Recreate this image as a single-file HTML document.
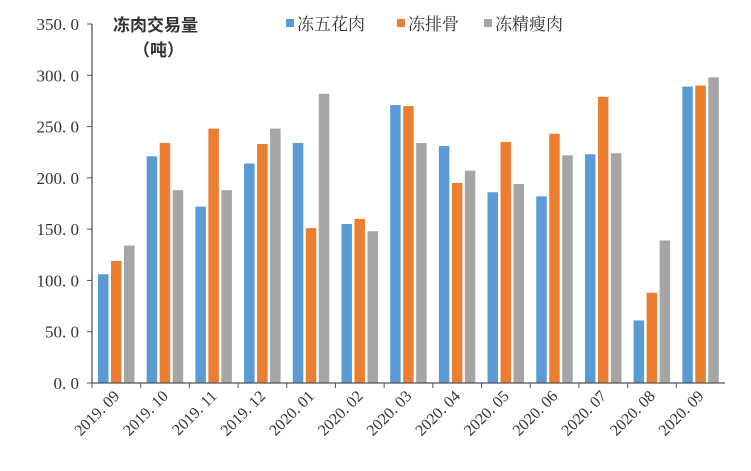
<!DOCTYPE html>
<html><head><meta charset="utf-8"><style>
body{margin:0;background:#fff;width:751px;height:466px;overflow:hidden}
svg text{font-family:"Liberation Serif","Noto Serif CJK SC",serif;fill:#333}
</style></head><body>
<svg id="chart" width="751" height="466" xmlns="http://www.w3.org/2000/svg">
<text x="113" y="31" font-size="17" font-weight="bold" style="font-family:'Noto Sans CJK SC',sans-serif" fill="#000">冻肉交易量</text>
<text x="133" y="56" font-size="17" font-weight="bold" style="font-family:'Noto Sans CJK SC',sans-serif" fill="#000">（吨）</text>
<g id="legend"></g>
<g id="grid"></g><g id="bars"></g><g id="axes"></g>
</svg>
<script>
const categories=["2019. 09","2019. 10","2019. 11","2019. 12","2020. 01","2020. 02","2020. 03","2020. 04","2020. 05","2020. 06","2020. 07","2020. 08","2020. 09"];
const seriesNames=["冻五花肉","冻排骨","冻精瘦肉"];
const porkBelly=[106,221,172,214,234,155,271,231,186,182,223,61,289];
const ribs=[119,234,248,233,151,160,270,195,235,243,279,88,290];
const leanMeat=[134,188,188,248,282,148,234,207,194,222,224,139,298];
const yTicks=[0,50,100,150,200,250,300,350];
const colors=["#5B9BD5","#ED7D31","#A5A5A5"];
const NS="http://www.w3.org/2000/svg";
const x0=92,x1=725,y0=383,yTop=24,yMax=350;
const bw=(x1-x0)/categories.length;
const y=v=>y0-v/yMax*(y0-yTop);
function mk(t,a,p){const e=document.createElementNS(NS,t);for(const k in a)e.setAttribute(k,a[k]);p.appendChild(e);return e;}
const bars=document.getElementById('bars'),axes=document.getElementById('axes'),leg=document.getElementById('legend');
const series=[porkBelly,ribs,leanMeat];
series.forEach((s,si)=>{s.forEach((v,i)=>{
 const r=mk('rect',{x:x0+i*bw+6+si*13,y:y(v),width:10.5,height:y0-y(v),fill:colors[si]},bars);
 
 
});});
const ax=mk('line',{x1:x0,y1:yTop,x2:x0,y2:y0,stroke:'#555','stroke-width':1.3},axes);

const bx=mk('line',{x1:x0,y1:y0,x2:x1,y2:y0,stroke:'#555','stroke-width':1.3},axes);

yTicks.forEach(t=>{
 mk('line',{x1:x0-5,y1:y(t),x2:x0,y2:y(t),stroke:'#555'},axes);
 const tx=mk('text',{x:x0-13,y:y(t)+6,'text-anchor':'end','font-size':17},axes);
 tx.textContent=t.toFixed(1).replace('.','. ');
 
});
categories.forEach((c,i)=>{
 mk('line',{x1:x0+i*bw,y1:y0,x2:x0+i*bw,y2:y0+5,stroke:'#555'},axes);
 const cx=x0+(i+0.5)*bw+4;
 const tx=mk('text',{x:cx,y:y0+14,'text-anchor':'end','font-size':16,transform:`rotate(-45 ${cx} ${y0+14})`},axes);
 tx.textContent=c;
 
});
const lx=[286,397,484];
seriesNames.forEach((n,i)=>{
 const g=mk('g',{},leg);
 
 mk('rect',{x:lx[i],y:19,width:8,height:8,fill:colors[i]},g);
 const t=mk('text',{x:lx[i]+11,y:30,'font-size':17},g);t.textContent=n;
});
</script>
</body></html>
